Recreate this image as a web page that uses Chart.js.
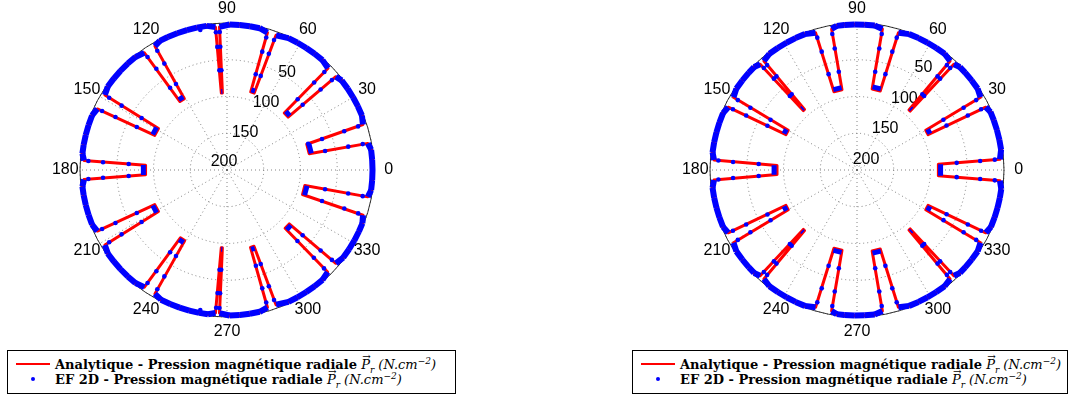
<!DOCTYPE html>
<html>
<head>
<meta charset="utf-8">
<title>Pression magnétique radiale</title>
<script src="https://cdn.jsdelivr.net/npm/chart.js@4.4.1/dist/chart.umd.min.js"></script>
<style>
  html, body { margin: 0; padding: 0; background: #fff; }
  body { position: relative; width: 1072px; height: 396px; overflow: hidden; }
  .plot { position: absolute; top: 0; width: 536px; height: 346px; }
  .legend {
    position: absolute; box-sizing: border-box; border: 1px solid #000; background: #fff;
    font-family: "DejaVu Serif", "Liberation Serif", serif; font-size: 13px; color: #000;
  }
  .row { position: absolute; left: 0; right: 0; height: 15px; line-height: 15px; white-space: nowrap; }
  .swatch-line { position: absolute; top: 6px; width: 34px; height: 2px; background: #ff0000; }
  .swatch-dot { position: absolute; top: 5px; width: 4px; height: 4px; border-radius: 50%; background: #0000ff; }
  .txt { position: absolute; top: 0; }
  .txt b { font-weight: bold; }
  .m { font-style: italic; font-weight: normal; }
  .vec { position: relative; display: inline-block; }
  .vec .arr { position: absolute; left: 1px; top: -8px; font-size: 10px; font-style: normal; }
  sub, sup { font-size: 9px; line-height: 0; }
</style>
</head>
<body>

<div class="plot" style="left:0"><canvas id="leftChart"></canvas></div>
<div class="plot" style="left:536px"><canvas id="rightChart"></canvas></div>

<div class="legend" style="left:7px; top:350px; width:449px; height:44px">
  <div class="row" style="top:6px">
    <span class="swatch-line" style="left:8px"></span>
    <span class="txt" style="left:47px"><b>Analytique - Pression magnétique radiale</b> <span class="m"><span class="vec">P<span class="arr">→</span></span><sub>r</sub> (N.cm<sup>−2</sup>)</span></span>
  </div>
  <div class="row" style="top:21px">
    <span class="swatch-dot" style="left:23px"></span>
    <span class="txt" style="left:47px"><b>EF 2D - Pression magnétique radiale</b> <span class="m"><span class="vec">P<span class="arr">→</span></span><sub>r</sub> (N.cm<sup>−2</sup>)</span></span>
  </div>
</div>

<div class="legend" style="left:632px; top:350px; width:436px; height:44px">
  <div class="row" style="top:6px">
    <span class="swatch-line" style="left:8px"></span>
    <span class="txt" style="left:47px"><b>Analytique - Pression magnétique radiale</b> <span class="m"><span class="vec">P<span class="arr">→</span></span><sub>r</sub> (N.cm<sup>−2</sup>)</span></span>
  </div>
  <div class="row" style="top:21px">
    <span class="swatch-dot" style="left:23px"></span>
    <span class="txt" style="left:47px"><b>EF 2D - Pression magnétique radiale</b> <span class="m"><span class="vec">P<span class="arr">→</span></span><sub>r</sub> (N.cm<sup>−2</sup>)</span></span>
  </div>
</div>

<script>
// ─── RADIAL AXIS ──────────────────────────────────────────────
const spokeAngles = [0, 30, 60, 90, 120, 150, 180, 210, 240, 270, 300, 330];
const ringValues  = [50, 100, 150, 200];

// ─── LEFT PLOT DATA (angle in degrees, pressure) ─────────────
// tooth arcs, one list per tooth
const leftTeeth = [
    [349.2, 352, 356, 0, 4, 8, 10.7],
    [18.5, 22, 26, 30, 34, 38, 40.6],
    [45.2, 49, 53, 57, 61, 65, 70.0],
    [73.6, 77, 81, 85, 89, 93.0],
    [94.6, 98, 102, 106, 110, 114, 117.5, 120.2],
    [125.2, 129, 133, 137, 141, 145, 148.4],
    [154.8, 158, 162, 166, 170, 173.5, 176.2],
    [183.8, 186.5, 190, 194, 198, 202, 205.2],
    [211.6, 215, 219, 223, 227, 231, 234.8],
    [239.8, 243, 247, 251, 255, 259, 262.5, 265.4],
    [267.0, 271, 275, 279, 283, 286.4],
    [290.0, 295, 299, 303, 307, 311, 314.6],
    [319.4, 323, 327, 331, 335, 338.5, 341.6]
];
const leftTeethP = [
    [5, 2, 2, 2, 2, 2, 5],
    [5, 2, 2, 2, 2, 2, 5],
    [5, 2, 2, 2, 2, 2, 5],
    [5, 2, 2, 2, 2, 5],
    [5, 2, 2, 2, 2, 2, 2, 5],
    [5, 2, 2, 2, 2, 2, 5],
    [5, 2, 2, 2, 2, 2, 5],
    [5, 2, 2, 2, 2, 2, 5],
    [5, 2, 2, 2, 2, 2, 5],
    [5, 2, 2, 2, 2, 2, 2, 5],
    [5, 2, 2, 2, 2, 5],
    [5, 2, 2, 2, 2, 2, 5],
    [5, 2, 2, 2, 2, 2, 5]
];
// slot bottoms: analytic depth and finite-element depth
const leftSlotLo   = [11.2, 40.9, 70.5, 93.4, 120.9, 148.8, 176.6, 205.6, 235.5, 265.8, 286.9, 314.9, 342.0];
const leftSlotHi   = [17.9, 44.9, 73.1, 94.2, 124.5, 154.4, 183.4, 211.2, 239.1, 266.6, 289.5, 319.1, 348.8];
const leftSlotP    = [86, 90, 89, 95, 87, 91, 89, 91, 88, 94, 90, 88, 92];
const leftSlotFeP  = [83, 87, 86, 93, 84, 88, 86, 88, 85, 92, 87, 85, 89];
// finite-element samples along the slot flanks (and two bumps on the teeth)
const leftDotTheta = [
    10.8, 10.9, 11.0, 17.9, 18.1, 18.3, 18.4,
    40.6, 40.7, 40.8, 45.0, 45.1, 45.2,
    70.1, 70.2, 70.3, 73.3, 73.4, 73.5,
    93.0, 93.1, 93.2, 94.4, 94.5, 94.6,
    120.3, 120.5, 120.7, 124.7, 124.9, 125.1,
    148.5, 148.6, 148.7, 154.5, 154.6, 154.7,
    176.3, 176.4, 176.5, 183.5, 183.6, 183.7,
    205.3, 205.4, 205.5, 211.3, 211.4, 211.5,
    234.9, 235.1, 235.3, 239.3, 239.5, 239.7,
    265.5, 265.6, 265.7, 266.7, 266.8, 266.9,
    286.5, 286.6, 286.8, 289.7, 289.8, 289.9,
    314.6, 314.7, 314.8, 319.2, 319.3, 319.4,
    341.7, 341.8, 341.9, 348.9, 349.0, 349.1,
    100.8, 259.2
];
const leftDotP = [
    12, 32, 64, 84, 64, 32, 12,
    12, 32, 64, 64, 32, 12,
    12, 32, 64, 64, 32, 12,
    12, 32, 64, 64, 32, 12,
    12, 32, 64, 64, 32, 12,
    12, 32, 64, 64, 32, 12,
    11, 31, 66, 66, 31, 11,
    12, 32, 64, 64, 32, 12,
    12, 32, 64, 64, 32, 12,
    12, 32, 64, 64, 32, 12,
    12, 32, 64, 64, 32, 12,
    12, 32, 64, 64, 32, 12,
    12, 32, 64, 64, 32, 12,
    6, 6
];

// ─── RIGHT PLOT DATA ──────────────────────────────────────────
const rightTeeth = [
    [4.3, 8, 12, 16, 20, 23.5, 26.0],
    [30.5, 34, 38, 42, 45, 47.5],
    [49.5, 53, 57, 61, 65, 69, 73.2],
    [79.8, 83, 87, 91, 95, 98, 100.2],
    [106.8, 111, 115, 119, 123, 127, 130.5],
    [132.5, 135, 138, 142, 146, 149.5],
    [154.0, 157, 161, 165, 169, 173, 176.0],
    [184.0, 187, 191, 195, 199, 203, 206.0],
    [210.5, 214, 218, 222, 225, 227.5],
    [229.5, 233, 237, 241, 245, 249, 253.2],
    [259.8, 262, 265, 269, 273, 277, 280.2],
    [286.8, 291, 295, 299, 303, 307, 310.5],
    [312.5, 315, 318, 322, 326, 329.5],
    [334.0, 337, 341, 345, 349, 352.5, 355.7]
];
const rightTeethP = [
    [5, 2, 2, 2, 2, 2, 5],
    [5, 2, 2, 2, 2, 5],
    [5, 2, 2, 2, 2, 2, 5],
    [5, 2, 2, 2, 2, 2, 5],
    [5, 2, 2, 2, 2, 2, 5],
    [5, 2, 2, 2, 2, 5],
    [5, 2, 2, 2, 2, 2, 5],
    [5, 2, 2, 2, 2, 2, 5],
    [5, 2, 2, 2, 2, 5],
    [5, 2, 2, 2, 2, 2, 5],
    [5, 2, 2, 2, 2, 2, 5],
    [5, 2, 2, 2, 2, 2, 5],
    [5, 2, 2, 2, 2, 5],
    [5, 2, 2, 2, 2, 2, 5]
];
const rightSlotLo  = [356.0, 26.5, 47.9, 73.6, 100.6, 130.9, 150.0, 176.7, 206.5, 227.9, 253.6, 280.6, 310.9, 330.0];
const rightSlotHi  = [4.0, 30.0, 49.1, 79.4, 106.4, 132.1, 153.5, 183.3, 210.0, 229.1, 259.4, 286.4, 312.1, 333.5];
const rightSlotP   = [89, 92, 92, 88, 89, 91, 92, 91, 92, 91, 89, 88, 92, 92];
const rightSlotFeP = [86, 89, 89, 85, 86, 88, 89, 87, 89, 88, 86, 85, 89, 89];
const rightDotTheta = [
    355.7, 355.8, 355.9, 4.1, 4.2, 4.3,
    26.1, 26.2, 26.4, 30.2, 30.3, 30.4,
    47.6, 47.7, 47.8, 49.2, 49.3, 49.4,
    73.3, 73.4, 73.5, 79.5, 79.6, 79.7,
    100.3, 100.4, 100.5, 106.5, 106.6, 106.7,
    130.6, 130.7, 130.8, 132.2, 132.3, 132.4,
    149.6, 149.7, 149.9, 153.7, 153.8, 153.9,
    176.1, 176.3, 176.5, 183.5, 183.7, 183.9,
    206.1, 206.2, 206.4, 210.2, 210.3, 210.4,
    227.6, 227.7, 227.8, 229.2, 229.3, 229.4,
    253.3, 253.4, 253.5, 259.5, 259.6, 259.7,
    280.3, 280.4, 280.5, 286.5, 286.6, 286.7,
    310.6, 310.7, 310.8, 312.2, 312.3, 312.4,
    329.6, 329.7, 329.9, 333.7, 333.8, 333.9
];
const rightDotP = [
    12, 32, 64, 64, 32, 12,
    12, 32, 64, 64, 32, 12,
    12, 32, 64, 64, 32, 12,
    12, 32, 64, 64, 32, 12,
    12, 32, 64, 64, 32, 12,
    12, 32, 64, 64, 32, 12,
    12, 32, 64, 64, 32, 12,
    11, 31, 66, 66, 31, 11,
    12, 32, 64, 64, 32, 12,
    12, 32, 64, 64, 32, 12,
    12, 32, 64, 64, 32, 12,
    12, 32, 64, 64, 32, 12,
    12, 32, 64, 64, 32, 12,
    12, 32, 64, 64, 32, 12
];

// ─── ANGLE GRID FOR THE RADAR SCALE ──────────────────────────
// one radar spoke every 0.1 degree, running clockwise from 3 o'clock
const STEP = 0.1;
const N = Math.round(360 / STEP);
const angleLabels = Array.from({ length: N }, (_, i) => ((N - i) % N) * STEP);

function toIndex(theta) {
    const a = ((360 - theta) % 360 + 360) % 360;
    return Math.round(a / STEP) % N;
}

function place(thetas, values) {
    const arr = new Array(N).fill(null);
    thetas.forEach((t, k) => { arr[toIndex(t)] = values[k]; });
    return arr;
}

// a short piece of thick blue band (dense FE samples merge into it)
function bandPiece(t0, t1, p0, p1, width) {
    return {
        label: "EF 2D",
        data: place([t0, t1], [p0, p1]),
        borderColor: "#0000ff",
        borderWidth: width,
        borderCapStyle: "round",
        pointRadius: 0,
        spanGaps: true,
        fill: false,
        clip: false,
        order: 1
    };
}

// ─── DATASETS ─────────────────────────────────────────────────
function buildDatasets(d) {
    const sets = [];

    sets.push({
        label: "EF 2D - Pression magnétique radiale",
        data: place(d.dotT, d.dotP),
        showLine: false,
        pointRadius: 2.3,
        pointBackgroundColor: "#0000ff",
        pointBorderWidth: 0,
        fill: false,
        clip: false,
        order: 0
    });

    d.teeth.forEach((t, k) => {
        for (let j = 0; j + 1 < t.length; j++) {
            sets.push(bandPiece(t[j], t[j + 1], d.teethP[k][j], d.teethP[k][j + 1], 6));
        }
    });
    d.slotLo.forEach((t, k) => {
        sets.push(bandPiece(t, d.slotHi[k], d.slotFeP[k], d.slotFeP[k], 5));
    });

    sets.push({
        label: "Analytique - Pression magnétique radiale",
        data: place(
            [...d.teeth.flat(), ...d.slotLo, ...d.slotHi],
            [...d.teethP.flat(), ...d.slotP, ...d.slotP]
        ),
        borderColor: "#ff0000",
        borderWidth: 3,
        borderJoinStyle: "round",
        pointRadius: 0,
        spanGaps: true,
        fill: false,
        clip: false,
        order: 2
    });
    return sets;
}

// ─── FRAME: OUTER CIRCLE AND LABELS ──────────────────────────
const polarFrame = {
    id: "polarFrame",
    beforeDatasetsDraw(chart, args, opts) {
        const s = chart.scales.r;
        const ctx = chart.ctx;
        ctx.save();
        ctx.strokeStyle = "#000";
        ctx.lineWidth = 0.8;
        ctx.beginPath();
        ctx.arc(s.xCenter, s.yCenter, s.drawingArea, 0, 2 * Math.PI);
        ctx.stroke();

        ctx.fillStyle = "#000";
        ctx.font = '16px "Liberation Sans", Arial, sans-serif';
        ctx.textAlign = "center";
        ctx.textBaseline = "middle";
        spokeAngles.forEach(a => {
            const p = s.getPointPosition(toIndex(a), s.drawingArea * 1.1);
            ctx.fillText(String(a), p.x, p.y);
        });

        const rad = opts.tickAngle * Math.PI / 180;
        ringValues.forEach(v => {
            const dist = s.getDistanceFromCenterForValue(v) * 0.99;
            ctx.fillText(String(v),
                s.xCenter + dist * Math.cos(rad) + opts.tickDx,
                s.yCenter - dist * Math.sin(rad) + opts.tickDy);
        });
        ctx.restore();
    }
};

function makeChart(id, padding, tickOpts, datasets) {
    const ctx = document.getElementById(id).getContext("2d");
    return new Chart(ctx, {
        type: "radar",
        data: { labels: angleLabels, datasets: datasets },
        options: {
            responsive: true,
            maintainAspectRatio: false,
            animation: false,
            events: [],
            layout: { padding: padding },
            plugins: {
                legend: { display: false },
                tooltip: { enabled: false },
                polarFrame: tickOpts
            },
            scales: {
                r: {
                    min: 0,
                    max: 200,
                    reverse: true,
                    startAngle: 90,
                    ticks: { display: false, stepSize: 50 },
                    pointLabels: { display: false },
                    grid: {
                        circular: true,
                        color: c => (c.tick && c.tick.value === 200 ? "rgba(0,0,0,0)" : "#666"),
                        lineWidth: 0.8
                    },
                    border: { dash: [1, 3] },
                    angleLines: {
                        color: "#666",
                        lineWidth: c => (c.index % 300 === 0 ? 0.8 : 0),
                        borderDash: [1, 3]
                    }
                }
            }
        },
        plugins: [polarFrame]
    });
}

// ─── INIT ─────────────────────────────────────────────────────
makeChart("leftChart",
    { left: 80, right: 162, top: 23, bottom: 29 },
    { tickAngle: 54.7, tickDx: -3, tickDy: -8 },
    buildDatasets({
        teeth: leftTeeth, teethP: leftTeethP,
        slotLo: leftSlotLo, slotHi: leftSlotHi, slotP: leftSlotP, slotFeP: leftSlotFeP,
        dotT: leftDotTheta, dotP: leftDotP
    }));

makeChart("rightChart",
    { left: 174, right: 68, top: 23, bottom: 29 },
    { tickAngle: 58.2, tickDx: 9, tickDy: -10 },
    buildDatasets({
        teeth: rightTeeth, teethP: rightTeethP,
        slotLo: rightSlotLo, slotHi: rightSlotHi, slotP: rightSlotP, slotFeP: rightSlotFeP,
        dotT: rightDotTheta, dotP: rightDotP
    }));
</script>
</body>
</html>
